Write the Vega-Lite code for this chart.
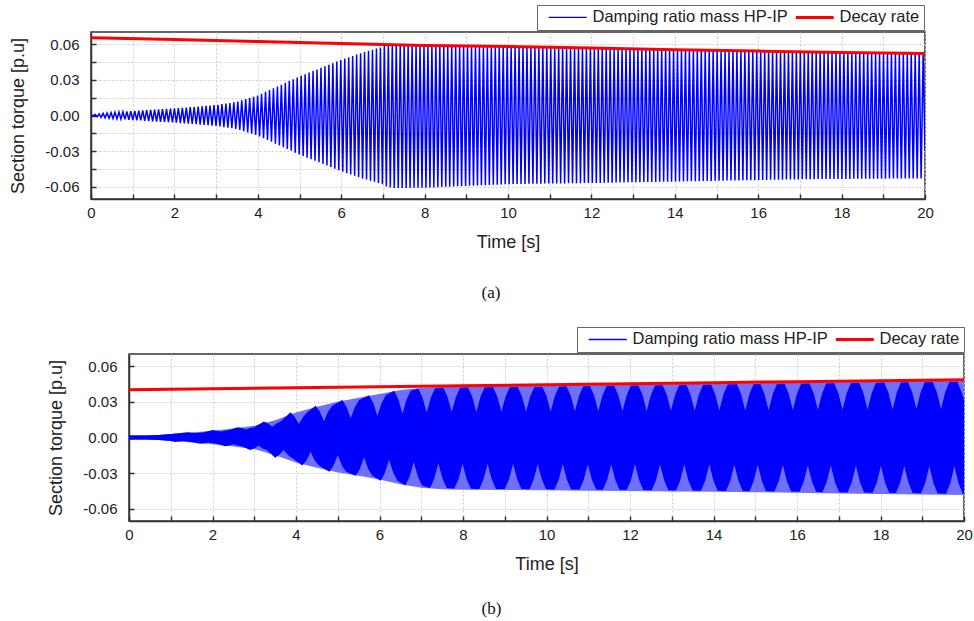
{
"$schema":"https://vega.github.io/schema/vega-lite/v6.json",
"padding":{"left":8,"top":4,"right":5,"bottom":5},
"spacing":24,
"config":{
 "font":"Liberation Sans",
 "view":{"stroke":"#333","strokeWidth":1.5},
 "axis":{"labelFont":"Liberation Sans","labelFontSize":15,"labelColor":"#222","titleFont":"Liberation Sans","titleFontSize":18,"titleFontWeight":"normal","titleColor":"#222","domainColor":"#333","domainWidth":1.5,"tickColor":"#333","tickWidth":1.5,"tickSize":-5,"grid":true,"gridColor":"#cccccc","gridDash":[2,2],"gridWidth":1,"labelOverlap":false,"labelFlush":false},
 "legend":{"labelFont":"Liberation Sans","labelFontSize":16.5,"labelColor":"#222","labelLimit":500}
},
"resolve":{"scale":{"color":"independent"},"legend":{"color":"independent"}},
"datasets":{
"aSig":[{"t":0,"v":0},{"t":0.06,"v":0},
{"t":0.1,"v":0.0008},{"t":0.1475,"v":-0.0011},{"t":0.195,"v":0.0014},{"t":0.2425,"v":-0.0016},{"t":0.29,"v":0.0018},{"t":0.3375,"v":-0.0019},{"t":0.385,"v":0.0021},{"t":0.4325,"v":-0.0023},{"t":0.48,"v":0.0025},{"t":0.5275,"v":-0.0026},{"t":0.575,"v":0.0027},{"t":0.6225,"v":-0.0029},{"t":0.67,"v":0.003},{"t":0.7175,"v":-0.0031},{"t":0.765,"v":0.0032},{"t":0.8125,"v":-0.0033},{"t":0.86,"v":0.0034},{"t":0.9075,"v":-0.0036},{"t":0.955,"v":0.0037},{"t":1.0025,"v":-0.0038},{"t":1.05,"v":0.0039},{"t":1.0975,"v":-0.004},{"t":1.145,"v":0.0041},{"t":1.1925,"v":-0.0042},{"t":1.24,"v":0.0044},{"t":1.2875,"v":-0.0045},{"t":1.335,"v":0.0046},{"t":1.3825,"v":-0.0047},{"t":1.43,"v":0.0048},{"t":1.4775,"v":-0.0049},{"t":1.525,"v":0.005},{"t":1.5725,"v":-0.0051},{"t":1.62,"v":0.0052},{"t":1.6675,"v":-0.0053},{"t":1.715,"v":0.0054},{"t":1.7625,"v":-0.0055},{"t":1.81,"v":0.0056},{"t":1.8575,"v":-0.0057},{"t":1.905,"v":0.0058},{"t":1.9525,"v":-0.0059},
{"t":2.0,"v":0.006},{"t":2.0475,"v":-0.0061},{"t":2.095,"v":0.0062},{"t":2.1425,"v":-0.0064},{"t":2.19,"v":0.0065},{"t":2.2375,"v":-0.0066},{"t":2.285,"v":0.0067},{"t":2.3325,"v":-0.0069},{"t":2.38,"v":0.007},{"t":2.4275,"v":-0.0071},{"t":2.475,"v":0.0072},{"t":2.5225,"v":-0.0074},{"t":2.57,"v":0.0075},{"t":2.6175,"v":-0.0077},{"t":2.665,"v":0.0078},{"t":2.7125,"v":-0.008},{"t":2.76,"v":0.0081},{"t":2.8075,"v":-0.0082},{"t":2.855,"v":0.0084},{"t":2.9025,"v":-0.0085},{"t":2.95,"v":0.0087},{"t":2.9975,"v":-0.0088},{"t":3.045,"v":0.009},{"t":3.0925,"v":-0.0093},{"t":3.14,"v":0.0096},{"t":3.1875,"v":-0.0098},{"t":3.235,"v":0.0101},{"t":3.2825,"v":-0.0103},{"t":3.33,"v":0.0106},{"t":3.3775,"v":-0.0108},{"t":3.425,"v":0.0111},{"t":3.4725,"v":-0.0113},{"t":3.52,"v":0.0117},{"t":3.5675,"v":-0.0122},{"t":3.615,"v":0.0128},{"t":3.6625,"v":-0.0133},{"t":3.71,"v":0.0138},{"t":3.7575,"v":-0.0143},{"t":3.805,"v":0.0148},{"t":3.8525,"v":-0.0154},
{"t":3.9,"v":0.0159},{"t":3.9475,"v":-0.0164},{"t":3.995,"v":0.0169},{"t":4.0425,"v":-0.0177},{"t":4.09,"v":0.0184},{"t":4.1375,"v":-0.0192},{"t":4.185,"v":0.02},{"t":4.2325,"v":-0.0207},{"t":4.28,"v":0.0215},{"t":4.3275,"v":-0.0222},{"t":4.375,"v":0.023},{"t":4.4225,"v":-0.0238},{"t":4.47,"v":0.0245},{"t":4.5175,"v":-0.0253},{"t":4.565,"v":0.026},{"t":4.6125,"v":-0.0268},{"t":4.66,"v":0.0276},{"t":4.7075,"v":-0.0283},{"t":4.755,"v":0.0291},{"t":4.8025,"v":-0.0298},{"t":4.85,"v":0.0306},{"t":4.8975,"v":-0.0314},{"t":4.945,"v":0.0321},{"t":4.9925,"v":-0.0329},{"t":5.04,"v":0.0336},{"t":5.0875,"v":-0.0342},{"t":5.135,"v":0.0349},{"t":5.1825,"v":-0.0356},{"t":5.23,"v":0.0362},{"t":5.2775,"v":-0.0369},{"t":5.325,"v":0.0376},{"t":5.3725,"v":-0.0382},{"t":5.42,"v":0.0389},{"t":5.4675,"v":-0.0395},{"t":5.515,"v":0.0402},{"t":5.5625,"v":-0.0409},{"t":5.61,"v":0.0415},{"t":5.6575,"v":-0.0422},{"t":5.705,"v":0.0429},{"t":5.7525,"v":-0.0435},
{"t":5.8,"v":0.0442},{"t":5.8475,"v":-0.0449},{"t":5.895,"v":0.0455},{"t":5.9425,"v":-0.0462},{"t":5.99,"v":0.0469},{"t":6.0375,"v":-0.0475},{"t":6.085,"v":0.0481},{"t":6.1325,"v":-0.0487},{"t":6.18,"v":0.0492},{"t":6.2275,"v":-0.0498},{"t":6.275,"v":0.0503},{"t":6.3225,"v":-0.0509},{"t":6.37,"v":0.0514},{"t":6.4175,"v":-0.052},{"t":6.465,"v":0.0526},{"t":6.5125,"v":-0.0531},{"t":6.56,"v":0.0536},{"t":6.6075,"v":-0.0541},{"t":6.655,"v":0.0546},{"t":6.7025,"v":-0.0551},{"t":6.75,"v":0.0556},{"t":6.7975,"v":-0.056},{"t":6.845,"v":0.0565},{"t":6.8925,"v":-0.057},{"t":6.94,"v":0.0575},{"t":6.9875,"v":-0.058},{"t":7.035,"v":0.0586},{"t":7.0825,"v":-0.06},{"t":7.13,"v":0.0597},{"t":7.1775,"v":-0.0608},{"t":7.225,"v":0.06},{"t":7.2725,"v":-0.0612},{"t":7.32,"v":0.0599},{"t":7.3675,"v":-0.0612},{"t":7.415,"v":0.0598},{"t":7.4625,"v":-0.0611},{"t":7.51,"v":0.0597},{"t":7.5575,"v":-0.0611},{"t":7.605,"v":0.0596},{"t":7.6525,"v":-0.0611},
{"t":7.7,"v":0.0594},{"t":7.7475,"v":-0.061},{"t":7.795,"v":0.0592},{"t":7.8425,"v":-0.061},{"t":7.89,"v":0.0591},{"t":7.9375,"v":-0.061},{"t":7.985,"v":0.059},{"t":8.0325,"v":-0.061},{"t":8.08,"v":0.059},{"t":8.1275,"v":-0.0608},{"t":8.175,"v":0.0589},{"t":8.2225,"v":-0.0607},{"t":8.27,"v":0.0588},{"t":8.3175,"v":-0.0605},{"t":8.365,"v":0.0588},{"t":8.4125,"v":-0.0604},{"t":8.46,"v":0.0587},{"t":8.5075,"v":-0.0602},{"t":8.555,"v":0.0587},{"t":8.6025,"v":-0.0601},{"t":8.65,"v":0.0586},{"t":8.6975,"v":-0.06},{"t":8.745,"v":0.0586},{"t":8.7925,"v":-0.0598},{"t":8.84,"v":0.0585},{"t":8.8875,"v":-0.0597},{"t":8.935,"v":0.0584},{"t":8.9825,"v":-0.0595},{"t":9.03,"v":0.0584},{"t":9.0775,"v":-0.0594},{"t":9.125,"v":0.0583},{"t":9.1725,"v":-0.0592},{"t":9.22,"v":0.0583},{"t":9.2675,"v":-0.0591},{"t":9.315,"v":0.0582},{"t":9.3625,"v":-0.0589},{"t":9.41,"v":0.0581},{"t":9.4575,"v":-0.0588},{"t":9.505,"v":0.0581},{"t":9.5525,"v":-0.0586},
{"t":9.6,"v":0.058},{"t":9.6475,"v":-0.0585},{"t":9.695,"v":0.058},{"t":9.7425,"v":-0.0584},{"t":9.79,"v":0.0579},{"t":9.8375,"v":-0.0582},{"t":9.885,"v":0.0579},{"t":9.9325,"v":-0.0581},{"t":9.98,"v":0.0578},{"t":10.0275,"v":-0.058},{"t":10.075,"v":0.0578},{"t":10.1225,"v":-0.0579},{"t":10.17,"v":0.0577},{"t":10.2175,"v":-0.0579},{"t":10.265,"v":0.0576},{"t":10.3125,"v":-0.0578},{"t":10.36,"v":0.0576},{"t":10.4075,"v":-0.0578},{"t":10.455,"v":0.0575},{"t":10.5025,"v":-0.0577},{"t":10.55,"v":0.0574},{"t":10.5975,"v":-0.0577},{"t":10.645,"v":0.0574},{"t":10.6925,"v":-0.0576},{"t":10.74,"v":0.0573},{"t":10.7875,"v":-0.0576},{"t":10.835,"v":0.0573},{"t":10.8825,"v":-0.0575},{"t":10.93,"v":0.0572},{"t":10.9775,"v":-0.0575},{"t":11.025,"v":0.0571},{"t":11.0725,"v":-0.0574},{"t":11.12,"v":0.0571},{"t":11.1675,"v":-0.0574},{"t":11.215,"v":0.057},{"t":11.2625,"v":-0.0573},{"t":11.31,"v":0.057},{"t":11.3575,"v":-0.0573},{"t":11.405,"v":0.0569},{"t":11.4525,"v":-0.0572},
{"t":11.5,"v":0.0568},{"t":11.5475,"v":-0.0572},{"t":11.595,"v":0.0568},{"t":11.6425,"v":-0.0571},{"t":11.69,"v":0.0567},{"t":11.7375,"v":-0.0571},{"t":11.785,"v":0.0567},{"t":11.8325,"v":-0.057},{"t":11.88,"v":0.0566},{"t":11.9275,"v":-0.057},{"t":11.975,"v":0.0565},{"t":12.0225,"v":-0.057},{"t":12.07,"v":0.0565},{"t":12.1175,"v":-0.0569},{"t":12.165,"v":0.0564},{"t":12.2125,"v":-0.0569},{"t":12.26,"v":0.0563},{"t":12.3075,"v":-0.0568},{"t":12.355,"v":0.0563},{"t":12.4025,"v":-0.0567},{"t":12.45,"v":0.0562},{"t":12.4975,"v":-0.0567},{"t":12.545,"v":0.0561},{"t":12.5925,"v":-0.0566},{"t":12.64,"v":0.0561},{"t":12.6875,"v":-0.0566},{"t":12.735,"v":0.056},{"t":12.7825,"v":-0.0565},{"t":12.83,"v":0.056},{"t":12.8775,"v":-0.0564},{"t":12.925,"v":0.0559},{"t":12.9725,"v":-0.0564},{"t":13.02,"v":0.0558},{"t":13.0675,"v":-0.0563},{"t":13.115,"v":0.0558},{"t":13.1625,"v":-0.0563},{"t":13.21,"v":0.0557},{"t":13.2575,"v":-0.0562},{"t":13.305,"v":0.0556},{"t":13.3525,"v":-0.0562},
{"t":13.4,"v":0.0556},{"t":13.4475,"v":-0.0561},{"t":13.495,"v":0.0555},{"t":13.5425,"v":-0.0561},{"t":13.59,"v":0.0555},{"t":13.6375,"v":-0.056},{"t":13.685,"v":0.0554},{"t":13.7325,"v":-0.056},{"t":13.78,"v":0.0554},{"t":13.8275,"v":-0.0559},{"t":13.875,"v":0.0553},{"t":13.9225,"v":-0.0559},{"t":13.97,"v":0.0552},{"t":14.0175,"v":-0.0558},{"t":14.065,"v":0.0552},{"t":14.1125,"v":-0.0557},{"t":14.16,"v":0.0551},{"t":14.2075,"v":-0.0557},{"t":14.255,"v":0.0551},{"t":14.3025,"v":-0.0556},{"t":14.35,"v":0.055},{"t":14.3975,"v":-0.0555},{"t":14.445,"v":0.0549},{"t":14.4925,"v":-0.0555},{"t":14.54,"v":0.0549},{"t":14.5875,"v":-0.0554},{"t":14.635,"v":0.0548},{"t":14.6825,"v":-0.0553},{"t":14.73,"v":0.0548},{"t":14.7775,"v":-0.0553},{"t":14.825,"v":0.0547},{"t":14.8725,"v":-0.0552},{"t":14.92,"v":0.0547},{"t":14.9675,"v":-0.0551},{"t":15.015,"v":0.0546},{"t":15.0625,"v":-0.0551},{"t":15.11,"v":0.0545},{"t":15.1575,"v":-0.055},{"t":15.205,"v":0.0545},{"t":15.2525,"v":-0.0549},
{"t":15.3,"v":0.0544},{"t":15.3475,"v":-0.0549},{"t":15.395,"v":0.0544},{"t":15.4425,"v":-0.0548},{"t":15.49,"v":0.0543},{"t":15.5375,"v":-0.0548},{"t":15.585,"v":0.0543},{"t":15.6325,"v":-0.0547},{"t":15.68,"v":0.0542},{"t":15.7275,"v":-0.0547},{"t":15.775,"v":0.0541},{"t":15.8225,"v":-0.0546},{"t":15.87,"v":0.0541},{"t":15.9175,"v":-0.0546},{"t":15.965,"v":0.054},{"t":16.0125,"v":-0.0545},{"t":16.06,"v":0.054},{"t":16.1075,"v":-0.0544},{"t":16.155,"v":0.0539},{"t":16.2025,"v":-0.0544},{"t":16.25,"v":0.0539},{"t":16.2975,"v":-0.0543},{"t":16.345,"v":0.0538},{"t":16.3925,"v":-0.0543},{"t":16.44,"v":0.0537},{"t":16.4875,"v":-0.0542},{"t":16.535,"v":0.0537},{"t":16.5825,"v":-0.0542},{"t":16.63,"v":0.0536},{"t":16.6775,"v":-0.0541},{"t":16.725,"v":0.0536},{"t":16.7725,"v":-0.0541},{"t":16.82,"v":0.0535},{"t":16.8675,"v":-0.054},{"t":16.915,"v":0.0534},{"t":16.9625,"v":-0.054},{"t":17.01,"v":0.0534},{"t":17.0575,"v":-0.0539},{"t":17.105,"v":0.0533},{"t":17.1525,"v":-0.0539},
{"t":17.2,"v":0.0533},{"t":17.2475,"v":-0.0538},{"t":17.295,"v":0.0532},{"t":17.3425,"v":-0.0538},{"t":17.39,"v":0.0532},{"t":17.4375,"v":-0.0537},{"t":17.485,"v":0.0531},{"t":17.5325,"v":-0.0537},{"t":17.58,"v":0.0531},{"t":17.6275,"v":-0.0536},{"t":17.675,"v":0.053},{"t":17.7225,"v":-0.0536},{"t":17.77,"v":0.0529},{"t":17.8175,"v":-0.0536},{"t":17.865,"v":0.0529},{"t":17.9125,"v":-0.0535},{"t":17.96,"v":0.0528},{"t":18.0075,"v":-0.0535},{"t":18.055,"v":0.0528},{"t":18.1025,"v":-0.0535},{"t":18.15,"v":0.0527},{"t":18.1975,"v":-0.0535},{"t":18.245,"v":0.0527},{"t":18.2925,"v":-0.0534},{"t":18.34,"v":0.0526},{"t":18.3875,"v":-0.0534},{"t":18.435,"v":0.0526},{"t":18.4825,"v":-0.0534},{"t":18.53,"v":0.0525},{"t":18.5775,"v":-0.0534},{"t":18.625,"v":0.0525},{"t":18.6725,"v":-0.0534},{"t":18.72,"v":0.0524},{"t":18.7675,"v":-0.0533},{"t":18.815,"v":0.0524},{"t":18.8625,"v":-0.0533},{"t":18.91,"v":0.0523},{"t":18.9575,"v":-0.0533},{"t":19.005,"v":0.0523},{"t":19.0525,"v":-0.0533},
{"t":19.1,"v":0.0522},{"t":19.1475,"v":-0.0532},{"t":19.195,"v":0.0522},{"t":19.2425,"v":-0.0532},{"t":19.29,"v":0.0521},{"t":19.3375,"v":-0.0532},{"t":19.385,"v":0.0521},{"t":19.4325,"v":-0.0532},{"t":19.48,"v":0.052},{"t":19.5275,"v":-0.0532},{"t":19.575,"v":0.052},{"t":19.6225,"v":-0.0532},{"t":19.67,"v":0.0519},{"t":19.7175,"v":-0.0532},{"t":19.765,"v":0.0519},{"t":19.8125,"v":-0.0532},{"t":19.86,"v":0.0518},{"t":19.9075,"v":-0.0532},{"t":19.955,"v":0.0518},{"t":20.0,"v":-0.03}],
"aRed":[{"t":0,"v":0.0657},{"t":2,"v":0.0641},{"t":4,"v":0.0625},{"t":6,"v":0.0608},{"t":8,"v":0.0592},{"t":10,"v":0.0583},{"t":12,"v":0.057},{"t":14,"v":0.0555},{"t":16,"v":0.0544},{"t":18,"v":0.0532},{"t":20,"v":0.0524}],
"bRed":[{"t":0,"v":0.0403},{"t":2,"v":0.0412},{"t":4,"v":0.042},{"t":6,"v":0.0429},{"t":8,"v":0.0437},{"t":10,"v":0.0446},{"t":12,"v":0.0454},{"t":14,"v":0.0463},{"t":16,"v":0.0471},{"t":18,"v":0.048},{"t":20,"v":0.0488}],
"bEnv":[{"t":0,"hi":0,"lo":0},{"t":0.2,"hi":0.0006,"lo":-0.0006},{"t":0.5,"hi":0.0014,"lo":-0.0014},{"t":1,"hi":0.0029,"lo":-0.0029},{"t":1.5,"hi":0.0043,"lo":-0.0043},{"t":2,"hi":0.0057,"lo":-0.0057},{"t":2.5,"hi":0.0075,"lo":-0.0075},{"t":3,"hi":0.0099,"lo":-0.0098},{"t":3.5,"hi":0.0145,"lo":-0.015},{"t":4,"hi":0.0211,"lo":-0.0211},{"t":4.5,"hi":0.026,"lo":-0.0255},{"t":5,"hi":0.0302,"lo":-0.0295},{"t":5.5,"hi":0.0336,"lo":-0.0322},{"t":6,"hi":0.0367,"lo":-0.0355},{"t":6.5,"hi":0.04,"lo":-0.0395},{"t":7,"hi":0.0418,"lo":-0.0425},{"t":7.5,"hi":0.0428,"lo":-0.0437},{"t":8,"hi":0.0431,"lo":-0.0442},{"t":9,"hi":0.0434,"lo":-0.0444},{"t":10,"hi":0.0438,"lo":-0.0446},{"t":11,"hi":0.0442,"lo":-0.0449},{"t":12,"hi":0.0446,"lo":-0.0452},{"t":13,"hi":0.045,"lo":-0.0455},{"t":14,"hi":0.0455,"lo":-0.0458},{"t":15,"hi":0.0459,"lo":-0.0462},{"t":16,"hi":0.0463,"lo":-0.0467},{"t":17,"hi":0.0467,"lo":-0.0472},{"t":18,"hi":0.0472,"lo":-0.0477},{"t":19,"hi":0.0476,"lo":-0.0481},{"t":20,"hi":0.048,"lo":-0.0485}],
"bUp":[{"t":0,"v":0},{"t":0.5,"v":0.0014},{"t":1.0,"v":0.0029},
{"t":1.4,"v":0.0045},{"t":1.5,"v":0.0041},{"t":1.6,"v":0.0037},{"t":1.7,"v":0.0041},{"t":1.8,"v":0.0045},
{"t":2.0,"v":0.0063},{"t":2.1,"v":0.0058},{"t":2.2,"v":0.0051},{"t":2.3,"v":0.0058},{"t":2.4,"v":0.0063},
{"t":2.6,"v":0.0087},{"t":2.7,"v":0.008},{"t":2.8,"v":0.0067},{"t":2.9,"v":0.008},{"t":3.0,"v":0.0087},
{"t":3.23,"v":0.0136},{"t":3.33,"v":0.0118},{"t":3.43,"v":0.009},{"t":3.53,"v":0.0118},{"t":3.63,"v":0.0136},
{"t":3.87,"v":0.0214},{"t":3.97,"v":0.0174},{"t":4.07,"v":0.0115},{"t":4.17,"v":0.0174},{"t":4.27,"v":0.0214},
{"t":4.47,"v":0.0269},{"t":4.57,"v":0.0219},{"t":4.67,"v":0.0137},{"t":4.77,"v":0.0219},{"t":4.87,"v":0.0269},
{"t":5.11,"v":0.0317},{"t":5.21,"v":0.0258},{"t":5.31,"v":0.0162},{"t":5.41,"v":0.0258},{"t":5.51,"v":0.0317},
{"t":5.75,"v":0.0357},{"t":5.85,"v":0.0291},{"t":5.95,"v":0.0182},{"t":6.05,"v":0.0291},{"t":6.15,"v":0.0357},
{"t":6.35,"v":0.0394},{"t":6.45,"v":0.0322},{"t":6.55,"v":0.0201},{"t":6.65,"v":0.0322},{"t":6.75,"v":0.0394},
{"t":6.93,"v":0.0413},{"t":7.03,"v":0.0337},{"t":7.13,"v":0.0211},{"t":7.23,"v":0.0337},{"t":7.33,"v":0.0413},
{"t":7.53,"v":0.042},{"t":7.63,"v":0.0343},{"t":7.73,"v":0.0215},{"t":7.83,"v":0.0343},{"t":7.93,"v":0.042},
{"t":8.12,"v":0.0423},{"t":8.22,"v":0.0346},{"t":8.32,"v":0.0216},{"t":8.42,"v":0.0346},{"t":8.52,"v":0.0423},
{"t":8.72,"v":0.0425},{"t":8.82,"v":0.0347},{"t":8.92,"v":0.0217},{"t":9.02,"v":0.0347},{"t":9.12,"v":0.0425},
{"t":9.31,"v":0.0427},{"t":9.41,"v":0.0349},{"t":9.51,"v":0.0218},{"t":9.61,"v":0.0349},{"t":9.71,"v":0.0427},
{"t":9.9,"v":0.0429},{"t":10.0,"v":0.035},{"t":10.1,"v":0.0219},{"t":10.2,"v":0.035},{"t":10.3,"v":0.0429},
{"t":10.48,"v":0.0432},{"t":10.58,"v":0.0353},{"t":10.68,"v":0.0221},{"t":10.78,"v":0.0353},{"t":10.88,"v":0.0432},
{"t":11.04,"v":0.0434},{"t":11.14,"v":0.0354},{"t":11.24,"v":0.0222},{"t":11.34,"v":0.0354},{"t":11.44,"v":0.0434},
{"t":11.62,"v":0.0436},{"t":11.72,"v":0.0356},{"t":11.82,"v":0.0223},{"t":11.92,"v":0.0356},{"t":12.02,"v":0.0436},
{"t":12.2,"v":0.0439},{"t":12.3,"v":0.0358},{"t":12.4,"v":0.0224},{"t":12.5,"v":0.0358},{"t":12.6,"v":0.0439},
{"t":12.78,"v":0.0441},{"t":12.88,"v":0.036},{"t":12.98,"v":0.0225},{"t":13.08,"v":0.036},{"t":13.18,"v":0.0441},
{"t":13.35,"v":0.0443},{"t":13.45,"v":0.0362},{"t":13.55,"v":0.0226},{"t":13.65,"v":0.0362},{"t":13.75,"v":0.0443},
{"t":13.94,"v":0.0447},{"t":14.04,"v":0.0365},{"t":14.14,"v":0.0228},{"t":14.24,"v":0.0365},{"t":14.34,"v":0.0447},
{"t":14.56,"v":0.0449},{"t":14.66,"v":0.0366},{"t":14.76,"v":0.0229},{"t":14.86,"v":0.0366},{"t":14.96,"v":0.0449},
{"t":15.12,"v":0.0451},{"t":15.22,"v":0.0368},{"t":15.32,"v":0.023},{"t":15.42,"v":0.0368},{"t":15.52,"v":0.0451},
{"t":15.7,"v":0.0454},{"t":15.8,"v":0.037},{"t":15.9,"v":0.0232},{"t":16.0,"v":0.037},{"t":16.1,"v":0.0454},
{"t":16.3,"v":0.0456},{"t":16.4,"v":0.0372},{"t":16.5,"v":0.0233},{"t":16.6,"v":0.0372},{"t":16.7,"v":0.0456},
{"t":16.89,"v":0.0458},{"t":16.99,"v":0.0374},{"t":17.09,"v":0.0234},{"t":17.19,"v":0.0374},{"t":17.29,"v":0.0458},
{"t":17.49,"v":0.0461},{"t":17.59,"v":0.0376},{"t":17.69,"v":0.0235},{"t":17.79,"v":0.0376},{"t":17.89,"v":0.0461},
{"t":18.09,"v":0.0464},{"t":18.19,"v":0.0378},{"t":18.29,"v":0.0237},{"t":18.39,"v":0.0378},{"t":18.49,"v":0.0464},
{"t":18.66,"v":0.0466},{"t":18.76,"v":0.038},{"t":18.86,"v":0.0238},{"t":18.96,"v":0.038},{"t":19.06,"v":0.0466},
{"t":19.25,"v":0.0468},{"t":19.35,"v":0.0382},{"t":19.45,"v":0.0239},{"t":19.55,"v":0.0382},{"t":19.65,"v":0.0468},
{"t":19.84,"v":0.047},{"t":19.94,"v":0.0384},{"t":20.0,"v":0.0326}],
"bLo":[{"t":0,"v":0},{"t":0.5,"v":-0.0014},{"t":1.0,"v":-0.0029},
{"t":1.1,"v":-0.0037},{"t":1.2,"v":-0.0034},{"t":1.3,"v":-0.003},{"t":1.4,"v":-0.0034},{"t":1.5,"v":-0.0037},
{"t":1.7,"v":-0.0053},{"t":1.8,"v":-0.0049},{"t":1.9,"v":-0.0043},{"t":2.0,"v":-0.0049},{"t":2.1,"v":-0.0053},
{"t":2.3,"v":-0.0074},{"t":2.4,"v":-0.0068},{"t":2.5,"v":-0.0056},{"t":2.6,"v":-0.0068},{"t":2.7,"v":-0.0074},
{"t":2.9,"v":-0.0106},{"t":3.0,"v":-0.0092},{"t":3.1,"v":-0.0068},{"t":3.2,"v":-0.0092},{"t":3.3,"v":-0.0106},
{"t":3.5,"v":-0.0171},{"t":3.6,"v":-0.0145},{"t":3.7,"v":-0.0105},{"t":3.8,"v":-0.0145},{"t":3.9,"v":-0.0171},
{"t":4.15,"v":-0.0237},{"t":4.25,"v":-0.0194},{"t":4.35,"v":-0.0121},{"t":4.45,"v":-0.0194},{"t":4.55,"v":-0.0237},
{"t":4.8,"v":-0.0289},{"t":4.9,"v":-0.0236},{"t":5.0,"v":-0.0148},{"t":5.1,"v":-0.0236},{"t":5.2,"v":-0.0289},
{"t":5.43,"v":-0.0324},{"t":5.53,"v":-0.0265},{"t":5.63,"v":-0.0166},{"t":5.73,"v":-0.0265},{"t":5.83,"v":-0.0324},
{"t":6.03,"v":-0.0366},{"t":6.13,"v":-0.0298},{"t":6.23,"v":-0.0187},{"t":6.33,"v":-0.0298},{"t":6.43,"v":-0.0366},
{"t":6.62,"v":-0.0406},{"t":6.72,"v":-0.0331},{"t":6.82,"v":-0.0207},{"t":6.92,"v":-0.0331},{"t":7.02,"v":-0.0406},
{"t":7.21,"v":-0.0426},{"t":7.31,"v":-0.0348},{"t":7.41,"v":-0.0218},{"t":7.51,"v":-0.0348},{"t":7.61,"v":-0.0426},
{"t":7.79,"v":-0.0433},{"t":7.89,"v":-0.0354},{"t":7.99,"v":-0.0221},{"t":8.09,"v":-0.0354},{"t":8.19,"v":-0.0433},
{"t":8.39,"v":-0.0434},{"t":8.49,"v":-0.0354},{"t":8.59,"v":-0.0222},{"t":8.69,"v":-0.0354},{"t":8.79,"v":-0.0434},
{"t":9.0,"v":-0.0435},{"t":9.1,"v":-0.0355},{"t":9.2,"v":-0.0222},{"t":9.3,"v":-0.0355},{"t":9.4,"v":-0.0435},
{"t":9.59,"v":-0.0437},{"t":9.69,"v":-0.0357},{"t":9.79,"v":-0.0223},{"t":9.89,"v":-0.0357},{"t":9.99,"v":-0.0437},
{"t":10.19,"v":-0.0438},{"t":10.29,"v":-0.0358},{"t":10.39,"v":-0.0224},{"t":10.49,"v":-0.0358},{"t":10.59,"v":-0.0438},
{"t":10.79,"v":-0.044},{"t":10.89,"v":-0.0359},{"t":10.99,"v":-0.0225},{"t":11.09,"v":-0.0359},{"t":11.19,"v":-0.044},
{"t":11.35,"v":-0.0442},{"t":11.45,"v":-0.0361},{"t":11.55,"v":-0.0226},{"t":11.65,"v":-0.0361},{"t":11.75,"v":-0.0442},
{"t":11.92,"v":-0.0443},{"t":12.02,"v":-0.0362},{"t":12.12,"v":-0.0226},{"t":12.22,"v":-0.0362},{"t":12.32,"v":-0.0443},
{"t":12.52,"v":-0.0445},{"t":12.62,"v":-0.0363},{"t":12.72,"v":-0.0227},{"t":12.82,"v":-0.0363},{"t":12.92,"v":-0.0445},
{"t":13.1,"v":-0.0447},{"t":13.2,"v":-0.0365},{"t":13.3,"v":-0.0228},{"t":13.4,"v":-0.0365},{"t":13.5,"v":-0.0447},
{"t":13.7,"v":-0.0449},{"t":13.8,"v":-0.0366},{"t":13.9,"v":-0.0229},{"t":14.0,"v":-0.0366},{"t":14.1,"v":-0.0449},
{"t":14.3,"v":-0.0451},{"t":14.4,"v":-0.0368},{"t":14.5,"v":-0.023},{"t":14.6,"v":-0.0368},{"t":14.7,"v":-0.0451},
{"t":14.86,"v":-0.0453},{"t":14.96,"v":-0.037},{"t":15.06,"v":-0.0231},{"t":15.16,"v":-0.037},{"t":15.26,"v":-0.0453},
{"t":15.46,"v":-0.0456},{"t":15.56,"v":-0.0372},{"t":15.66,"v":-0.0233},{"t":15.76,"v":-0.0372},{"t":15.86,"v":-0.0456},
{"t":16.06,"v":-0.0459},{"t":16.16,"v":-0.0374},{"t":16.26,"v":-0.0234},{"t":16.36,"v":-0.0374},{"t":16.46,"v":-0.0459},
{"t":16.61,"v":-0.0462},{"t":16.71,"v":-0.0377},{"t":16.81,"v":-0.0236},{"t":16.91,"v":-0.0377},{"t":17.01,"v":-0.0462},
{"t":17.21,"v":-0.0465},{"t":17.31,"v":-0.0379},{"t":17.41,"v":-0.0237},{"t":17.51,"v":-0.0379},{"t":17.61,"v":-0.0465},
{"t":17.81,"v":-0.0467},{"t":17.91,"v":-0.0382},{"t":18.01,"v":-0.0239},{"t":18.11,"v":-0.0382},{"t":18.21,"v":-0.0467},
{"t":18.37,"v":-0.0469},{"t":18.47,"v":-0.0383},{"t":18.57,"v":-0.024},{"t":18.67,"v":-0.0383},{"t":18.77,"v":-0.0469},
{"t":18.97,"v":-0.0472},{"t":19.07,"v":-0.0386},{"t":19.17,"v":-0.0241},{"t":19.27,"v":-0.0386},{"t":19.37,"v":-0.0472},
{"t":19.57,"v":-0.0474},{"t":19.67,"v":-0.0387},{"t":19.77,"v":-0.0242},{"t":19.87,"v":-0.0387},{"t":19.97,"v":-0.0474},{"t":20.0,"v":-0.0475}]
},
"vconcat":[
{
 "spacing":0,
 "hconcat":[
  {"width":1,"height":10,"data":{"values":[]},"mark":{"type":"point","opacity":0},"view":{"stroke":null}},
  {
   "width":834,"height":167,
   "title":{"text":"(a)","orient":"bottom","frame":"group","anchor":"middle","font":"Liberation Serif","fontSize":17,"fontWeight":"normal","color":"#111","dx":-17,"offset":34},
   "encoding":{
    "x":{"field":"t","type":"quantitative","scale":{"domain":[0,20],"nice":false},"axis":{"title":"Time [s]","values":[0,1,2,3,4,5,6,7,8,9,10,11,12,13,14,15,16,17,18,19,20],"labelExpr":"datum.value % 2 === 0 ? datum.label : ''","labelPadding":11,"titlePadding":13}},
    "y":{"field":"v","type":"quantitative","scale":{"domain":[-0.0705,0.0705],"nice":false,"zero":false},"axis":{"title":"Section torque [p.u]","values":[-0.06,-0.045,-0.03,-0.015,0,0.015,0.03,0.045,0.06],"labelExpr":"round(datum.value * 1000) % 30 === 0 ? (datum.value < -0.001 ? '-' + format(-datum.value, '.2f') : format(abs(datum.value), '.2f')) : ''","labelPadding":17,"titlePadding":17}}
   },
   "layer":[
    {"data":{"name":"aSig"},"mark":{"type":"line","strokeWidth":1.5,"clip":true},
     "encoding":{"color":{"datum":"Damping ratio mass HP-IP","scale":{"domain":["Damping ratio mass HP-IP","Decay rate"],"range":["#0000ff","#ff0000"]},
      "legend":{"title":null,"orient":"none","legendX":529,"legendY":-27,"direction":"horizontal","symbolType":"stroke","symbolSize":1444,"symbolStrokeWidth":2,"symbolOffset":18.5,"strokeColor":"#666","padding":4,"columnPadding":-3,"labelOffset":16.5,
       "encode":{"symbols":{"update":{"fill":{"value":"transparent"},"stroke":{"signal":"datum.value === 'Decay rate' ? '#ff0000' : '#2020ff'"},"strokeWidth":{"signal":"datum.value === 'Decay rate' ? 3 : 1.3"}}}}}}}},
    {"data":{"name":"aRed"},"mark":{"type":"line","strokeWidth":3,"clip":true},"encoding":{"color":{"datum":"Decay rate"}}}
   ]
  }
 ]
},
{
 "spacing":0,
 "hconcat":[
  {"width":39,"height":10,"data":{"values":[]},"mark":{"type":"point","opacity":0},"view":{"stroke":null}},
  {
   "width":835,"height":167,
   "title":{"text":"(b)","orient":"bottom","frame":"group","anchor":"middle","font":"Liberation Serif","fontSize":17,"fontWeight":"normal","color":"#111","dx":-55,"offset":28},
   "layer":[
    {"data":{"name":"bEnv"},"mark":{"type":"area","color":"#7070ff","clip":true},
     "encoding":{
      "x":{"field":"t","type":"quantitative","scale":{"domain":[0,20],"nice":false},"axis":{"title":"Time [s]","values":[0,1,2,3,4,5,6,7,8,9,10,11,12,13,14,15,16,17,18,19,20],"labelExpr":"datum.value % 2 === 0 ? datum.label : ''","labelPadding":11,"titlePadding":13}},
      "y":{"field":"hi","type":"quantitative","scale":{"domain":[-0.0705,0.0705],"nice":false,"zero":false},"axis":{"title":"Section torque [p.u]","values":[-0.06,-0.045,-0.03,-0.015,0,0.015,0.03,0.045,0.06],"labelExpr":"round(datum.value * 1000) % 30 === 0 ? (datum.value < -0.001 ? '-' + format(-datum.value, '.2f') : format(abs(datum.value), '.2f')) : ''","labelPadding":17,"titlePadding":17}},
      "y2":{"field":"lo"}}},
    {"data":{"name":"bUp"},"mark":{"type":"area","clip":true},
     "encoding":{"x":{"field":"t","type":"quantitative"},"y":{"field":"v","type":"quantitative"},"y2":{"datum":-0.002},
      "color":{"datum":"Damping ratio mass HP-IP","scale":{"domain":["Damping ratio mass HP-IP","Decay rate"],"range":["#0000ff","#ff0000"]},
       "legend":{"title":null,"orient":"none","legendX":569,"legendY":-27,"direction":"horizontal","symbolType":"stroke","symbolSize":1444,"symbolStrokeWidth":2,"symbolOffset":18.5,"strokeColor":"#666","padding":4,"columnPadding":-3,"labelOffset":16.5,
        "encode":{"symbols":{"update":{"fill":{"value":"transparent"},"stroke":{"signal":"datum.value === 'Decay rate' ? '#ff0000' : '#4040ff'"},"strokeWidth":{"signal":"datum.value === 'Decay rate' ? 3 : 1.5"}}}}}}}},
    {"data":{"name":"bLo"},"mark":{"type":"area","clip":true},
     "encoding":{"x":{"field":"t","type":"quantitative"},"y":{"field":"v","type":"quantitative"},"y2":{"datum":0.002},"color":{"datum":"Damping ratio mass HP-IP"}}},
    {"data":{"name":"bRed"},"mark":{"type":"line","strokeWidth":3,"clip":true},
     "encoding":{"x":{"field":"t","type":"quantitative"},"y":{"field":"v","type":"quantitative"},"color":{"datum":"Decay rate"}}}
   ]
  }
 ]
}
]
}
